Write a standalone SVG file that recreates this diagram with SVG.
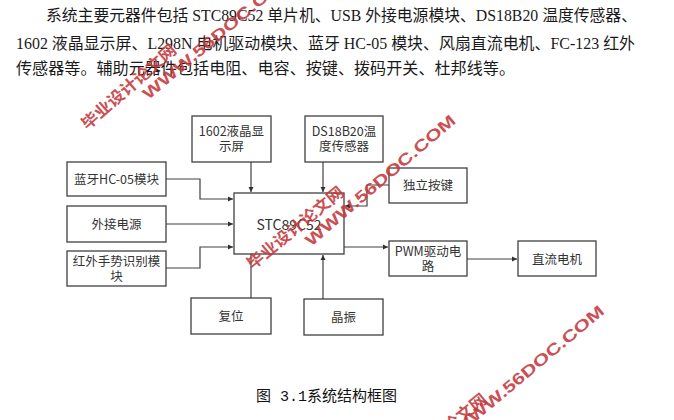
<svg xmlns="http://www.w3.org/2000/svg" width="674" height="420" viewBox="0 0 674 420">
<style>
.para{font-family:"Liberation Serif","Noto Sans CJK SC",serif;font-size:16px;fill:#1a1a1a}
.box{fill:#fff;stroke:#404040;stroke-width:1.3}
.lbl{font-family:"Noto Sans CJK SC","Liberation Sans",sans-serif;font-size:12.5px;fill:#333;text-anchor:middle}
.conn{fill:none;stroke:#404040;stroke-width:1.2}
.cap{font-family:"Liberation Mono","Noto Sans CJK SC",monospace;font-size:15px;fill:#111}
.wm{fill:#c4383d;font-weight:bold;text-anchor:middle;opacity:0.88}
.wmc{font-family:"Noto Sans CJK SC",sans-serif;font-size:16px}
.wme{font-family:"Liberation Sans",sans-serif;font-size:16px}
</style>
<defs>
<marker id="arr" markerUnits="userSpaceOnUse" markerWidth="6" markerHeight="6" refX="5" refY="3" orient="auto">
<path d="M0,0.5 L5,3 L0,5.5 Z" fill="#303030"/>
</marker>
</defs>
<rect width="674" height="420" fill="#fff"/>

<g id="paragraph">
<text class="para" x="46" y="21" textLength="591" lengthAdjust="spacingAndGlyphs">系统主要元器件包括 STC89C52 单片机、USB 外接电源模块、DS18B20 温度传感器、</text>
<text class="para" x="16" y="49" textLength="619" lengthAdjust="spacingAndGlyphs">1602 液晶显示屏、L298N 电机驱动模块、蓝牙 HC-05 模块、风扇直流电机、FC-123 红外</text>
<text class="para" x="16" y="74" textLength="499" lengthAdjust="spacingAndGlyphs">传感器等。辅助元器件包括电阻、电容、按键、拨码开关、杜邦线等。</text>
</g>

<g id="connectors">
<path class="conn" d="M251,162 V192" marker-end="url(#arr)"/>
<path class="conn" d="M323,162 V192" marker-end="url(#arr)"/>
<path class="conn" d="M166,179 H200 V199 H233" marker-end="url(#arr)"/>
<path class="conn" d="M166,224 H233" marker-end="url(#arr)"/>
<path class="conn" d="M166,268 H200 V247 H233" marker-end="url(#arr)"/>
<path class="conn" d="M389,185 H367 V206 H345" marker-end="url(#arr)"/>
<path class="conn" d="M344,247 H388" marker-end="url(#arr)"/>
<path class="conn" d="M467,259 H517" marker-end="url(#arr)"/>
<path class="conn" d="M251,298 V254"/>
<path class="conn" d="M323,299 V255" marker-end="url(#arr)"/>
</g>

<g id="n1602"><rect class="box" x="192" y="116" width="79" height="46"/><text class="lbl" x="231.5" y="136">1602液晶显</text><text class="lbl" x="231.5" y="151">示屏</text></g>
<g id="nDS"><rect class="box" x="305" y="116" width="78" height="46"/><text class="lbl" x="344" y="136">DS18B20温</text><text class="lbl" x="344" y="151">度传感器</text></g>
<g id="nBT"><rect class="box" x="67" y="162" width="99" height="34"/><text class="lbl" x="116.5" y="184">蓝牙HC-05模块</text></g>
<g id="nPWR"><rect class="box" x="67" y="206" width="99" height="36"/><text class="lbl" x="116.5" y="229">外接电源</text></g>
<g id="nIR"><rect class="box" x="67" y="251" width="99" height="35"/><text class="lbl" x="116.5" y="266">红外手势识别模</text><text class="lbl" x="116.5" y="281">块</text></g>
<g id="nSTC"><rect class="box" x="234" y="193" width="110" height="61"/><text class="lbl" x="289" y="230" style="font-size:14px">STC89C52</text></g>
<g id="nKEY"><rect class="box" x="389" y="168" width="78" height="35"/><text class="lbl" x="428" y="190">独立按键</text></g>
<g id="nPWM"><rect class="box" x="389" y="241" width="78" height="35"/><text class="lbl" x="428" y="256">PWM驱动电</text><text class="lbl" x="428" y="271">路</text></g>
<g id="nMOT"><rect class="box" x="518" y="241" width="78" height="35"/><text class="lbl" x="557" y="264">直流电机</text></g>
<g id="nRST"><rect class="box" x="191" y="298" width="80" height="36"/><text class="lbl" x="231" y="321">复位</text></g>
<g id="nXTAL"><rect class="box" x="304" y="299" width="79" height="36"/><text class="lbl" x="343.5" y="322">晶振</text></g>

<g id="caption"><text class="cap" x="256" y="401" textLength="141" lengthAdjust="spacingAndGlyphs">图 3.1系统结构框图</text></g>

<g id="watermarks">
<text class="wm wmc" transform="translate(128.5,86.5) rotate(-41)" x="0" y="6" textLength="120" lengthAdjust="spacingAndGlyphs">毕业设计论文网</text>
<text class="wm wme" transform="translate(218,34) rotate(-40)" x="0" y="6" textLength="192" lengthAdjust="spacingAndGlyphs">WWW.56DOC.COM</text>
<text class="wm wmc" transform="translate(295,227.5) rotate(-39.5)" x="0" y="6" textLength="120" lengthAdjust="spacingAndGlyphs">毕业设计论文网</text>
<text class="wm wme" transform="translate(380,180) rotate(-40.5)" x="0" y="6" textLength="192" lengthAdjust="spacingAndGlyphs">WWW.56DOC.COM</text>
<text class="wm wmc" transform="translate(438,434.5) rotate(-39.5)" x="0" y="6" textLength="120" lengthAdjust="spacingAndGlyphs">毕业设计论文网</text>
<text class="wm wme" transform="translate(528,370) rotate(-40)" x="0" y="6" textLength="192" lengthAdjust="spacingAndGlyphs">WWW.56DOC.COM</text>
</g>
</svg>
